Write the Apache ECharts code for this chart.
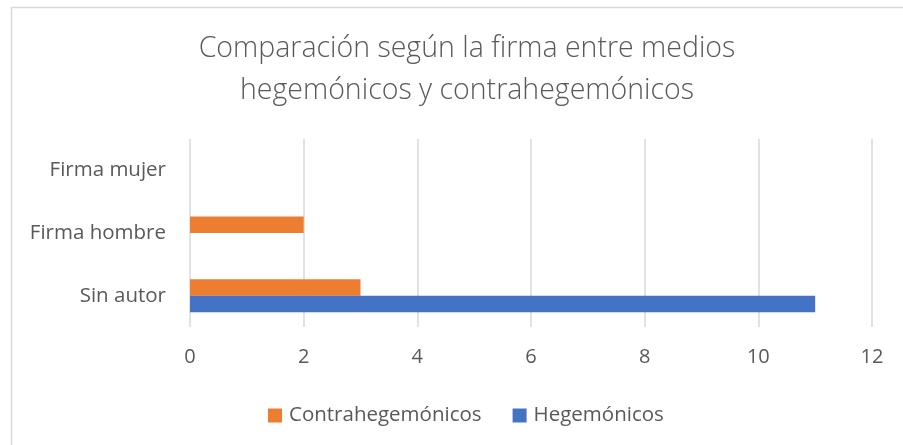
<!DOCTYPE html>
<html>
<head>
<meta charset="utf-8">
<script src="https://cdn.jsdelivr.net/npm/echarts@6/dist/echarts.min.js"></script>
<style>
html,body{margin:0;padding:0;background:#fff;}
#chart{width:903px;height:445px;}
</style>
</head>
<body>
<div id="chart"></div>
<script>
var categories = ['Sin autor', 'Firma hombre', 'Firma mujer'];
var contraValues = [3, 2, 0];
var hegeValues = [11, 0, 0];
var seriesNames = ['Contrahegemónicos', 'Hegemónicos'];
var titleText = 'Comparación según la firma entre medios\nhegemónicos y contrahegemónicos';

var chart = echarts.init(document.getElementById('chart'));
var font = 'Open Sans';
chart.setOption({
  backgroundColor: '#ffffff',
  animation: false,
  title: {
    text: titleText,
    left: 462,
    top: 23,
    textAlign: 'center',
    textStyle: {fontFamily: font, fontSize: 28.5, fontWeight: 300, color: '#595959', lineHeight: 42, align: 'center'}
  },
  graphic: [
    {type: 'line', shape: {x1: 11.5, y1: 7, x2: 11.5, y2: 445}, style: {stroke: '#d9d9d9', lineWidth: 1.5}},
    {type: 'line', shape: {x1: 11, y1: 7.5, x2: 903, y2: 7.5}, style: {stroke: '#d9d9d9', lineWidth: 1.5}}
  ],
  legend: {
    data: seriesNames,
    left: 263,
    top: 400,
    itemWidth: 14,
    itemHeight: 14,
    itemGap: 31,
    icon: 'rect',
    textStyle: {fontFamily: font, fontSize: 20.5, color: '#595959', padding: [0, 0, 0, 2]}
  },
  grid: {left: 190, right: 31, top: 139, bottom: 118, containLabel: false},
  xAxis: {
    type: 'value',
    min: 0, max: 12, interval: 2,
    axisLine: {show: false},
    axisTick: {show: false},
    splitLine: {lineStyle: {color: '#d9d9d9', width: 1.5}},
    axisLabel: {fontFamily: font, fontSize: 20, color: '#595959', margin: 20}
  },
  yAxis: {
    type: 'category',
    data: categories,
    axisLine: {show: false},
    axisTick: {show: false},
    axisLabel: {fontFamily: font, fontSize: 20.5, color: '#595959', margin: 24}
  },
  series: [
    {name: seriesNames[0], type: 'bar', data: contraValues, barWidth: 16.5, barGap: '0%', itemStyle: {color: '#ED7D31'}},
    {name: seriesNames[1], type: 'bar', data: hegeValues, barWidth: 16.5, barGap: '0%', itemStyle: {color: '#4472C4'}}
  ]
});
</script>
</body>
</html>
